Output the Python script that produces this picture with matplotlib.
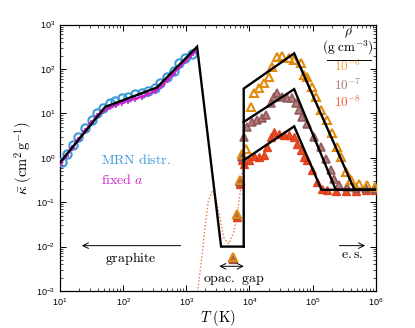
import numpy as np
import matplotlib
matplotlib.use("Agg")
import matplotlib.pyplot as plt

plt.rcParams['mathtext.fontset'] = 'custom'
plt.rcParams['mathtext.rm'] = 'Liberation Sans'
plt.rcParams['mathtext.it'] = 'Liberation Sans:italic'
plt.rcParams['font.family'] = 'Liberation Sans'

# ---------------- data (log10 values) ----------------
mrn_logT = [1.027, 1.106, 1.211, 1.29, 1.397, 1.503, 1.583, 1.687, 1.794, 1.873, 1.979,
            2.084, 2.19, 2.297, 2.40, 2.508, 2.587, 2.694, 2.798, 2.878, 2.984, 3.09]
mrn_logK = [-0.095, 0.095, 0.282, 0.469, 0.659, 0.846, 0.997, 1.11, 1.236, 1.281, 1.335,
            1.371, 1.425, 1.462, 1.507, 1.561, 1.674, 1.822, 1.958, 2.125, 2.238, 2.335]

fix_logT = [1.0, 1.095, 1.19, 1.286, 1.397, 1.492, 1.587, 1.683, 1.794, 1.889, 1.984, 2.079,
            2.19, 2.302, 2.397, 2.508, 2.603, 2.698, 2.794, 2.889, 2.984, 3.079, 3.143]
fix_logK = [-0.136, 0.034, 0.214, 0.395, 0.598, 0.778, 0.936, 1.049, 1.139, 1.195, 1.24, 1.286,
            1.331, 1.376, 1.432, 1.5, 1.613, 1.748, 1.883, 2.041, 2.177, 2.312, 2.402]

r6_logT = [3.741, 3.805, 3.857, 3.884, 3.937, 4.016, 4.068, 4.148, 4.227, 4.306, 4.36, 4.44,
           4.519, 4.624, 4.703, 4.81, 4.862, 4.916, 4.995, 5.048, 5.127, 5.233, 5.313, 5.392,
           5.444, 5.524, 5.603, 5.735, 5.868, 5.99]
r6_logK = [-2.238, -1.259, -0.492, 0.095, 0.20, 1.146, 1.448, 1.561, 1.674, 1.822, 2.048, 2.274,
           2.29, 2.238, 2.199, 2.125, 1.861, 1.822, 1.597, 1.371, 1.071, 0.846, 0.552, 0.243,
           0.018, -0.32, -0.508, -0.582, -0.62, -0.66]

r7_logT = [3.741, 3.805, 3.857, 3.884, 3.91, 3.963, 4.043, 4.122, 4.202, 4.254, 4.333, 4.386,
           4.44, 4.519, 4.598, 4.678, 4.73, 4.783, 4.837, 4.916, 5.021, 5.127, 5.206, 5.286,
           5.338, 5.417, 5.551, 5.683, 5.841, 5.99]
r7_logK = [-2.27, -1.30, -0.55, 0.01, 0.47, 0.695, 0.807, 0.846, 0.884, 0.959, 1.222, 1.371,
           1.448, 1.371, 1.335, 1.335, 1.222, 1.071, 0.92, 0.771, 0.469, 0.243, -0.018, -0.282,
           -0.469, -0.62, -0.659, -0.677, -0.688, -0.695]

r8_logT = [3.741, 3.805, 3.857, 3.884, 3.91, 3.989, 4.068, 4.148, 4.227, 4.281, 4.333, 4.386,
           4.465, 4.544, 4.624, 4.703, 4.757, 4.81, 4.862, 4.916, 4.995, 5.075, 5.154, 5.233,
           5.365, 5.524, 5.683, 5.841, 5.99]
r8_logK = [-2.29, -1.34, -0.60, -0.06, -0.147, -0.057, 0.034, 0.011, 0.056, 0.243, 0.469, 0.582,
           0.546, 0.507, 0.507, 0.469, 0.32, 0.169, 0.018, -0.057, -0.282, -0.546, -0.695, -0.733,
           -0.756, -0.756, -0.745, -0.733, -0.733]

dot_logT = [3.17, 3.24, 3.30, 3.35, 3.41, 3.46, 3.54, 3.59, 3.67, 3.75, 3.80, 3.857, 3.89]
dot_logK = [-3.1, -2.31, -1.52, -0.96, -0.76, -0.88, -1.41, -1.79, -1.94, -1.68, -1.34, -0.73, -0.28]

# analytic model (black lines)
mod_g_T = [10, 52, 340, 1480, 3550, 8100]
mod_g_K = [0.78, 14, 38, 316, 0.01, 0.01]
mod6_T = [8100, 8100, 51000, 460000, 1e6]
mod6_K = [0.01, 36, 224, 0.19, 0.19]
mod7_T = [8100, 51000, 232000, 1e6]
mod7_K = [6.4, 35, 0.19, 0.19]
mod8_T = [8100, 51000, 138000, 1e6]
mod8_K = [0.88, 5.1, 0.19, 0.19]

c_blue = '#3b9bd6'
c_mag = '#cc22cc'
c_or = '#e38b0c'
c_br = '#8e5454'
c_red = '#e03a12'

def p(a):
    return 10 ** np.asarray(a)

fig = plt.figure(figsize=(4.15, 3.28), dpi=100)
ax = fig.add_axes([0.1446, 0.1128, 0.761, 0.8125])
ax.set_xscale('log')
ax.set_yscale('log')

ax.plot(p(dot_logT), p(dot_logK), ls=(0, (1, 1.5)), color='#f07050', lw=1.0, zorder=2)

ax.plot(p(mrn_logT), p(mrn_logK), 'o', mfc='none', mec=c_blue, ms=6, mew=1.5, zorder=3)
ax.plot(p(fix_logT), p(fix_logK), '-', color=c_mag, lw=1.6, marker='+', ms=4, mew=1.2, zorder=4)

ax.plot(p(r8_logT), p(r8_logK), '^', color=c_red, mfc=c_red, mec=c_red, ms=5.5, mew=1.0, alpha=0.9, zorder=3)
ax.plot(p(r7_logT), p(r7_logK), '^', color=c_br, mfc='#a86e6e', mec=c_br, ms=5.5, mew=1.2, alpha=0.9, zorder=3)
ax.plot(p(r6_logT), p(r6_logK), '^', color=c_or, mfc='none', mec=c_or, ms=5.5, mew=1.5, zorder=3)

for T, K in [(mod_g_T, mod_g_K), (mod6_T, mod6_K), (mod7_T, mod7_K), (mod8_T, mod8_K)]:
    ax.plot(T, K, '-', color='black', lw=1.7, zorder=5, solid_joinstyle='miter')

ax.set_xlim(10, 1e6)
ax.set_ylim(1e-3, 1e3)
ax.tick_params(which='both', direction='in', top=True, right=True, labelsize=6.5, pad=3.5)
ax.tick_params(which='major', length=4, width=0.7)
ax.tick_params(which='minor', length=2, width=0.5)
for s in ax.spines.values():
    s.set_linewidth(0.9)

cm = dict(math_fontfamily='cm')
ax.set_xlabel(r'$T\ \mathrm{(K)}$', fontsize=10.5, labelpad=0, **cm)
ax.set_ylabel(r'$\bar{\kappa}\ \mathrm{(cm^2\,g^{-1})}$', fontsize=10.5, labelpad=1, **cm)

ax.text(44, 0.88, r'$\mathrm{MRN\ distr.}$', color=c_blue, fontsize=10, ha='left', va='center', **cm)
ax.text(44, 0.32, r'$\mathrm{fixed}\ a$', color=c_mag, fontsize=10, ha='left', va='center', **cm)

# arrows
ax.annotate('', xy=(20, 0.0105), xytext=(900, 0.0105),
            arrowprops=dict(arrowstyle='->', lw=0.7, color='black'))
ax.text(130, 0.0055, r'$\mathrm{graphite}$', fontsize=10, ha='center', va='center', **cm)
ax.annotate('', xy=(3000, 0.0036), xytext=(9000, 0.0036),
            arrowprops=dict(arrowstyle='<->', lw=0.7, color='black'))
ax.text(5700, 0.0018, r'$\mathrm{opac.\ gap}$', fontsize=10, ha='center', va='center', **cm)
ax.annotate('', xy=(7.5e5, 0.0105), xytext=(2.4e5, 0.0105),
            arrowprops=dict(arrowstyle='->', lw=0.7, color='black'))
ax.text(4.2e5, 0.0068, r'$\mathrm{e.s.}$', fontsize=10, ha='center', va='center', **cm)

# density legend
fig.text(348 / 415, 1 - 33 / 328, r'$\rho$', fontsize=9.5, ha='center', va='center', **cm)
fig.text(348 / 415, 1 - 48 / 328, r'$\mathrm{(g\ cm^{-3})}$', fontsize=9.5, ha='center', va='center', **cm)
ax.plot([0.844, 0.984], [0.868, 0.868], transform=ax.transAxes, color='black', lw=0.7, clip_on=False)
fig.text(348 / 415, 1 - 66 / 328, r'$10^{-6}$', fontsize=9.5, color='#eea23a', ha='center', va='center', **cm)
fig.text(348 / 415, 1 - 85 / 328, r'$10^{-7}$', fontsize=9.5, color='#a67272', ha='center', va='center', **cm)
fig.text(348 / 415, 1 - 102 / 328, r'$10^{-8}$', fontsize=9.5, color='#ee5a3a', ha='center', va='center', **cm)

fig.savefig('out.png', dpi=100)
